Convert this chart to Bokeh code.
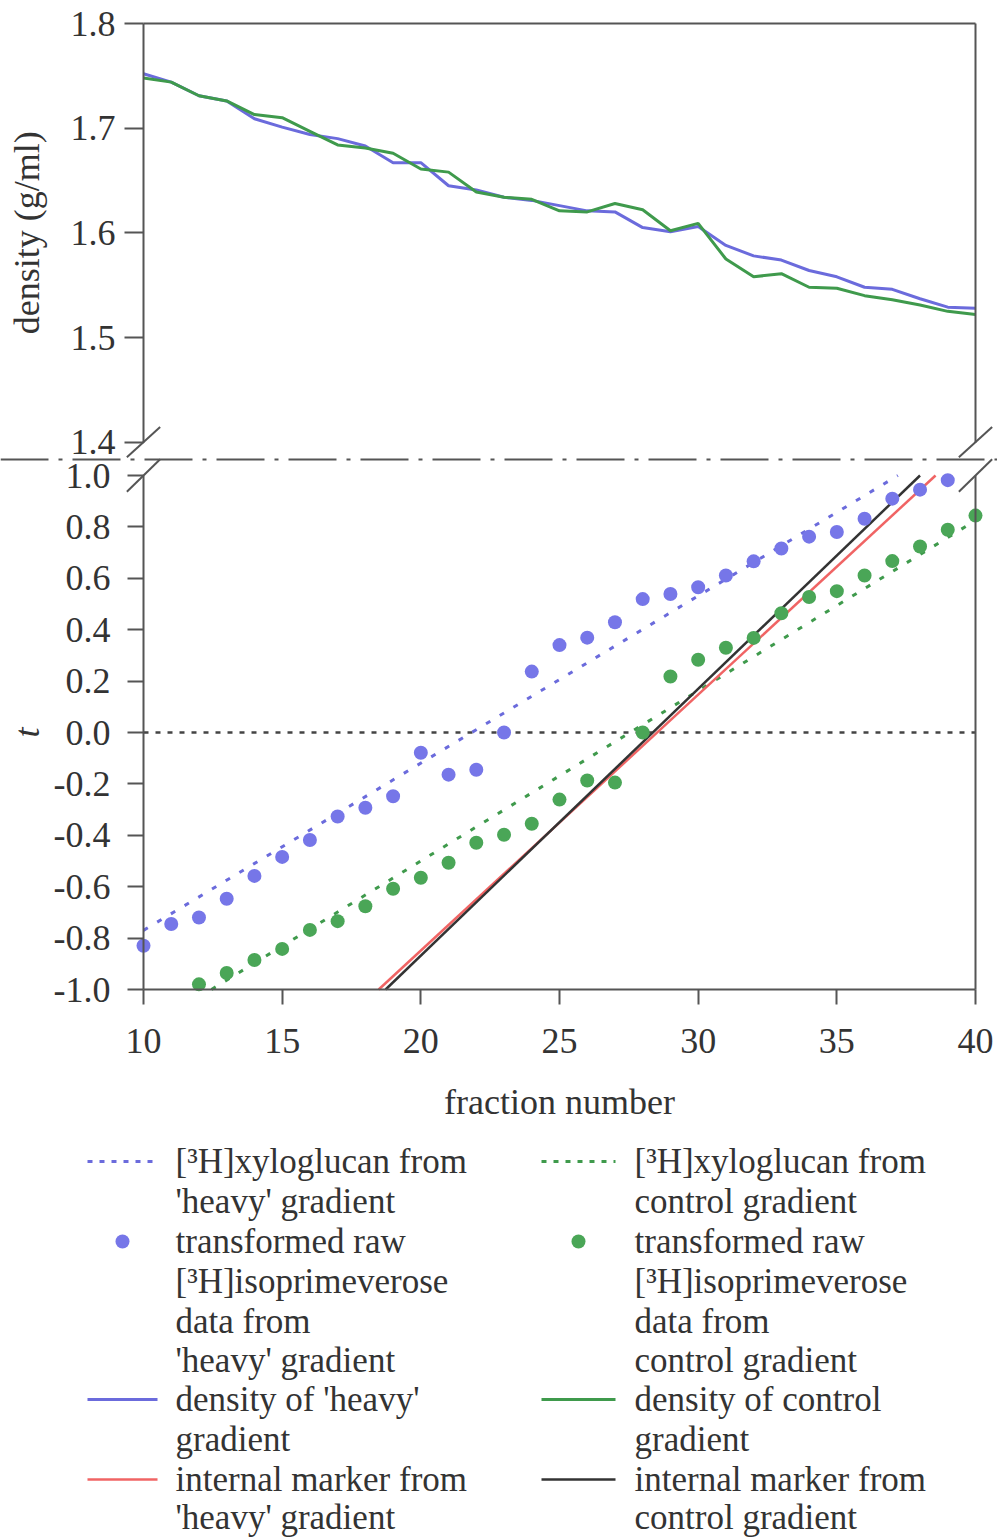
import math

from bokeh.core.properties import value
from bokeh.embed import file_html
from bokeh.layouts import column
from bokeh.models import FixedTicker, Label, LinearAxis, PrintfTickFormatter, Range1d, Span
from bokeh.plotting import figure
from bokeh.resources import INLINE

# ---------------------------------------------------------------- data
fractions = list(range(10, 41))
density_heavy = [1.752, 1.744, 1.731, 1.726, 1.709, 1.701, 1.694, 1.690, 1.683, 1.667,
                 1.667, 1.645, 1.641, 1.634, 1.631, 1.626, 1.621, 1.620, 1.605, 1.601,
                 1.606, 1.588, 1.578, 1.574, 1.564, 1.558, 1.548, 1.546, 1.537, 1.529,
                 1.528]
density_control = [1.748, 1.744, 1.731, 1.726, 1.713, 1.710, 1.697, 1.684, 1.681, 1.676,
                   1.661, 1.658, 1.639, 1.634, 1.632, 1.621, 1.620, 1.628, 1.622, 1.602,
                   1.609, 1.575, 1.558, 1.561, 1.548, 1.547, 1.540, 1.536, 1.531, 1.525,
                   1.522]

heavy_fractions = list(range(10, 40))
t_heavy = [-0.830, -0.745, -0.720, -0.647, -0.558, -0.484, -0.418, -0.327, -0.293, -0.248,
           -0.079, -0.164, -0.145, 0.000, 0.237, 0.340, 0.369, 0.429, 0.519, 0.539,
           0.565, 0.611, 0.666, 0.716, 0.762, 0.780, 0.832, 0.910, 0.945, 0.982]

control_fractions = list(range(12, 41))
t_control = [-0.980, -0.936, -0.885, -0.842, -0.768, -0.734, -0.676, -0.608, -0.565, -0.507,
             -0.429, -0.398, -0.355, -0.261, -0.187, -0.195, 0.000, 0.218, 0.283, 0.330,
             0.368, 0.464, 0.527, 0.550, 0.611, 0.667, 0.724, 0.789, 0.844]

# straight lines: [3H]xyloglucan fits and internal markers (fraction, t end points)
xylo_heavy_x, xylo_heavy_t = [10.0, 37.2], [-0.77, 1.0]
xylo_control_x, xylo_control_t = [12.45, 40.0], [-1.0, 0.825]
marker_heavy_x, marker_heavy_t = [18.48, 38.56], [-1.0, 1.0]
marker_control_x, marker_control_t = [18.73, 38.0], [-1.0, 1.0]

x_ticks = [10, 15, 20, 25, 30, 35, 40]
density_ticks = [1.4, 1.5, 1.6, 1.7, 1.8]
t_ticks = [-1.0, -0.8, -0.6, -0.4, -0.2, 0.0, 0.2, 0.4, 0.6, 0.8, 1.0]

legend_left = ["[\u00b3H]xyloglucan from", "'heavy' gradient", "transformed raw",
               "[\u00b3H]isoprimeverose", "data from", "'heavy' gradient",
               "density of 'heavy'", "gradient", "internal marker from", "'heavy' gradient"]
legend_right = ["[\u00b3H]xyloglucan from", "control gradient", "transformed raw",
                "[\u00b3H]isoprimeverose", "data from", "control gradient",
                "density of control", "gradient", "internal marker from", "control gradient"]

# ---------------------------------------------------------------- styling
FONT = "Liberation Serif"
TEXT = "#333333"
AXIS = "#555555"
BLUE_LINE = "#6b6bdc"
BLUE_DOT = "#7676e8"
GREEN_LINE = "#3f9a4c"
GREEN_DOT = "#4aa657"
RED = "#f06464"
BLACK = "#333333"

W, H_MAIN, H_LEG = 997, 1130, 407
X_LEFT_PX, X_RIGHT_PX = 143, 975      # screen x of fractions 10 and 40
T_ZERO_PX, PX_PER_T = 732, 257.0      # screen y of t = 0, pixels per unit t
D_TOP_PX, PX_PER_D = 23, 1046.7       # screen y of density 1.8, pixels per g/ml

px_per_frac = (X_RIGHT_PX - X_LEFT_PX) / (x_ticks[-1] - x_ticks[0])
x_start = x_ticks[0] - X_LEFT_PX / px_per_frac
x_end = x_ticks[-1] + (W - X_RIGHT_PX) / px_per_frac
t_range = Range1d((T_ZERO_PX - H_MAIN) / PX_PER_T, T_ZERO_PX / PX_PER_T)
d_range = Range1d(1.8 - (H_MAIN - D_TOP_PX) / PX_PER_D, 1.8 + D_TOP_PX / PX_PER_D)

# the frame fills the whole canvas; every axis sits at a fixed data location
p = figure(width=W, height=H_MAIN, output_backend="svg", toolbar_location=None,
           x_range=Range1d(x_start, x_end), y_range=t_range,
           x_axis_location=None, y_axis_location=None,
           min_border_left=0, min_border_right=0, min_border_top=0, min_border_bottom=0)
p.extra_y_ranges = {"density": d_range}
p.grid.visible = False
p.outline_line_color = None


def style_axis(ax, tick_out, standoff=10):
    ax.axis_line_color = AXIS
    ax.axis_line_width = 2
    ax.major_tick_line_color = AXIS
    ax.major_tick_line_width = 2
    ax.major_tick_out = tick_out
    ax.major_tick_in = 0
    ax.minor_tick_line_color = None
    ax.major_label_standoff = standoff
    ax.major_label_text_font = FONT
    ax.major_label_text_font_size = "36px"
    ax.major_label_text_color = TEXT


def plain_rule(**kw):
    ax = LinearAxis(ticker=FixedTicker(ticks=[]), **kw)
    style_axis(ax, 0)
    ax.major_tick_line_color = None
    ax.major_label_text_color = None
    return ax


# x axis at t = -1
xa = LinearAxis(fixed_location=-1.0, bounds=(10, 40), ticker=FixedTicker(ticks=x_ticks))
style_axis(xa, 15, 24)
p.add_layout(xa, "below")

# left axes: density (upper panel) and t (lower panel), both at fraction 10
ax_d = LinearAxis(y_range_name="density", fixed_location=10, bounds=(1.4, 1.8),
                  ticker=FixedTicker(ticks=density_ticks),
                  formatter=PrintfTickFormatter(format="%.1f"))
style_axis(ax_d, 19, 9)
p.add_layout(ax_d, "left")

ax_t = LinearAxis(fixed_location=10, bounds=(-1.0, 1.0), ticker=FixedTicker(ticks=t_ticks),
                  formatter=PrintfTickFormatter(format="%.1f"))
style_axis(ax_t, 16, 17)
p.add_layout(ax_t, "left")

# frame lines: right side of both panels, top of the density panel
p.add_layout(plain_rule(y_range_name="density", fixed_location=40, bounds=(1.4, 1.8)), "right")
p.add_layout(plain_rule(fixed_location=40, bounds=(-1.0, 1.0)), "right")
p.add_layout(plain_rule(y_range_name="density", fixed_location=1.8, bounds=(10, 40)), "above")

# broken-axis separator
break_t = 1.062
p.add_layout(Span(location=break_t, dimension="width", line_color=AXIS, line_width=2,
                  line_dash="48 10 4 10"))

# break marks on both vertical axes
for ax_x in (10, 40):
    p.segment(x0=[ax_x - 0.6], y0=[1.3855], x1=[ax_x + 0.6], y1=[1.4145],
              y_range_name="density", line_color=AXIS, line_width=2)
    p.segment(x0=[ax_x - 0.6], y0=[0.937], x1=[ax_x + 0.6], y1=[1.063],
              line_color=AXIS, line_width=2)

# upper panel: gradient densities
p.line(fractions, density_heavy, y_range_name="density", line_color=BLUE_LINE, line_width=3)
p.line(fractions, density_control, y_range_name="density", line_color=GREEN_LINE, line_width=3)

# lower panel
p.line([10, 40], [0, 0], line_color="#444444", line_width=2.5, line_dash="5 7")
p.line(xylo_heavy_x, xylo_heavy_t, line_color=BLUE_LINE, line_width=3, line_dash="5 11")
p.line(xylo_control_x, xylo_control_t, line_color=GREEN_LINE, line_width=3, line_dash="5 11")
p.line(marker_heavy_x, marker_heavy_t, line_color=RED, line_width=2.5)
p.line(marker_control_x, marker_control_t, line_color=BLACK, line_width=2.5)
p.scatter(heavy_fractions, t_heavy, size=14, fill_color=BLUE_DOT, line_color=None)
p.scatter(control_fractions, t_control, size=14, fill_color=GREEN_DOT, line_color=None)

# axis titles
title_x = x_start + 26 / px_per_frac
p.add_layout(Label(x=title_x, y=1.6, y_range_name="density", text="density (g/ml)",
                   angle=math.pi / 2, text_align="center", text_baseline="middle",
                   text_font=FONT, text_font_size="36px", text_color=TEXT))
p.add_layout(Label(x=title_x, y=0.0, text="t", angle=math.pi / 2, text_align="center",
                   text_baseline="middle", text_font=FONT, text_font_size="36px",
                   text_font_style="italic", text_color=TEXT))
p.add_layout(Label(x=25, y=(T_ZERO_PX - 1101) / PX_PER_T, text="fraction number",
                   text_align="center", text_baseline="middle", text_font=FONT,
                   text_font_size="36px", text_color=TEXT))

# ---------------------------------------------------------------- legend
leg = figure(width=W, height=H_LEG, output_backend="svg", toolbar_location=None,
             x_range=Range1d(0, W), y_range=Range1d(H_MAIN + H_LEG, H_MAIN),
             x_axis_location=None, y_axis_location=None,
             min_border_left=0, min_border_right=0, min_border_top=0, min_border_bottom=0)
leg.grid.visible = False
leg.outline_line_color = None

rows = [1161, 1201, 1241, 1281, 1321, 1360, 1399, 1439, 1479, 1517]
col_glyph = [(87, 157), (541, 615)]
col_text = [175, 634]

for (g0, g1), tx, labels, dotted, dot, dens, marker in (
        (col_glyph[0], col_text[0], legend_left, BLUE_LINE, BLUE_DOT, BLUE_LINE, RED),
        (col_glyph[1], col_text[1], legend_right, GREEN_LINE, GREEN_DOT, GREEN_LINE, BLACK)):
    leg.line([g0, g1], [rows[0]] * 2, line_color=dotted, line_width=3, line_dash="5 7")
    leg.scatter([(g0 + g1) / 2], [rows[2]], size=14, fill_color=dot, line_color=None)
    leg.line([g0, g1], [rows[6]] * 2, line_color=dens, line_width=3)
    leg.line([g0, g1], [rows[8]] * 2, line_color=marker, line_width=2.5)
    leg.text(x=[tx] * len(labels), y=rows, text=labels, text_font=value(FONT),
             text_font_size="35px", text_baseline="middle", text_color=TEXT)

layout = column(p, leg, spacing=0)
open("out.html", "w").write(file_html(layout, INLINE))
